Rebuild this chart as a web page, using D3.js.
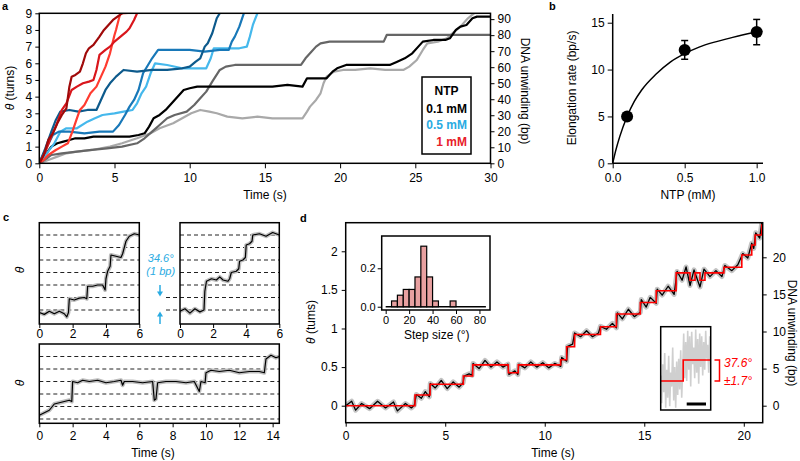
<!DOCTYPE html>
<html><head><meta charset="utf-8">
<script src="https://cdn.jsdelivr.net/npm/d3@7"></script>
<style>body{margin:0;background:#fff}svg{display:block}</style>
</head><body>
<svg id="fig" width="800" height="461"></svg>
<script>
// ---------------- DATA ----------------
const BP_PER_TURN = 360 / 34.6;

// Panel a : rotation traces [time (s), turns]
const aLightGray = [[0,0],[0.6,0.2],[1.2,0.4],[1.8,0.6],[2.5,0.7],[3.5,0.8],[4.7,1.0],[5.5,1.2],[6.5,1.5],[7.4,1.8],[8.0,2.1],[8.9,2.4],[9.5,2.7],[10.1,3.0],[10.7,3.2],[11.3,3.1],[11.8,3.0],[12.5,2.8],[13.5,2.7],[14.5,2.8],[15.5,2.7],[16.5,2.7],[17.5,2.7],[17.8,3.1],[18.0,3.4],[18.4,3.8],[18.7,4.2],[18.9,4.8],[19.1,5.2],[19.6,5.5],[20.2,5.6],[21,5.6],[22,5.7],[23,5.6],[24.2,5.6],[24.6,5.8],[25.1,6.2],[25.5,6.8],[25.8,7.2],[26.5,7.3],[27.1,7.5],[27.6,7.9],[28.0,8.2],[28.5,8.7],[28.9,9.0],[29.3,9.3]];
const aDarkGray = [[0,0],[0.5,0.3],[0.8,0.5],[1.5,0.6],[2.5,0.7],[3.5,0.8],[4.5,0.9],[5.5,1.0],[6.5,1.2],[7.0,1.5],[7.5,1.9],[8.0,2.3],[8.5,2.7],[9.0,2.9],[9.8,3.1],[10.3,3.5],[10.7,3.9],[11.1,4.3],[11.5,4.9],[12.0,5.6],[12.4,5.8],[13,5.9],[14,5.9],[15,5.9],[16,5.9],[17.4,5.9],[17.7,6.3],[18.0,6.6],[18.4,7.0],[18.7,7.2],[19.3,7.3],[20,7.3],[21,7.3],[22,7.3],[22.9,7.3],[23.1,7.7],[24,7.7],[25,7.7],[26,7.7],[27,7.7],[28,7.7],[29,7.7],[30,7.7]];
const aBlack = [[0,0],[0.4,0.5],[0.8,1.0],[1.2,1.2],[1.6,1.3],[2.0,1.4],[2.4,1.5],[3,1.5],[3.6,1.6],[4.2,1.6],[4.8,1.6],[5.4,1.6],[6,1.6],[6.6,1.7],[7.0,1.8],[7.3,2.2],[7.6,2.7],[8.0,2.9],[8.4,3.2],[8.7,3.5],[9.0,3.8],[9.3,4.1],[9.6,4.4],[10.0,4.5],[10.5,4.6],[11.5,4.6],[12.5,4.6],[13.5,4.6],[14.5,4.6],[15.5,4.6],[16.5,4.7],[17.5,4.6],[17.8,5.1],[18.5,5.1],[19.1,5.1],[19.5,5.5],[19.8,5.7],[20.4,5.9],[21.5,5.9],[22.5,5.9],[23.3,5.9],[23.8,6.1],[24.3,6.3],[24.8,6.6],[25.2,7.0],[25.5,7.3],[26.2,7.4],[27.0,7.4],[27.3,7.5],[27.7,8.0],[28.0,8.2],[28.4,8.3],[28.8,8.7],[29.1,8.8],[29.6,8.8],[30,8.8]];
const aLightBlue = [[0,0],[0.5,0.6],[1.0,1.2],[1.4,1.9],[1.8,2.1],[2.5,2.1],[3.2,2.5],[3.7,2.7],[4.2,2.9],[5,3.0],[5.6,3.1],[6.2,3.2],[6.5,3.6],[6.8,4.2],[7.1,4.6],[7.4,5.4],[7.7,6.0],[8.5,5.9],[9.5,5.7],[10.5,5.7],[11.1,5.7],[11.4,6.3],[11.6,6.9],[12.5,6.9],[13.3,6.9],[13.8,7.0],[14.0,7.6],[14.2,8.3],[14.5,9.0],[14.7,9.2]];
const aMedBlue = [[0,0],[0.4,0.8],[0.9,1.7],[1.3,1.9],[2,1.9],[3,1.8],[4,1.9],[4.9,1.9],[5.3,2.3],[5.7,2.9],[6.0,3.4],[6.3,3.8],[6.6,4.4],[6.9,5.4],[7.1,5.7],[7.5,6.3],[7.9,6.8],[9,6.8],[10,6.8],[11,6.7],[12,6.8],[12.6,6.8],[12.8,7.3],[13.0,7.6],[13.3,8.2],[13.6,9.0],[13.8,9.2]];
const aDarkBlue = [[0,0],[0.4,0.9],[0.8,1.9],[1.1,2.6],[1.4,3.1],[2.0,3.2],[2.6,3.1],[3.2,3.2],[3.8,3.2],[4.1,3.8],[4.4,4.4],[4.7,4.8],[5.1,5.2],[5.6,5.6],[6.5,5.5],[7.5,5.6],[8.5,5.6],[9.5,5.7],[10.0,5.8],[10.4,6.1],[10.7,6.3],[11.0,7.0],[11.2,7.2],[11.5,7.8],[11.8,8.7],[12.0,9.0],[12.3,9.2]];
const aBrightRed = [[0,0],[0.3,0.2],[0.6,0.5],[1.1,0.8],[1.5,1.0],[1.9,1.2],[2.2,1.9],[2.5,2.7],[2.7,3.2],[3.0,3.5],[3.4,4.2],[3.8,4.6],[4.1,5.2],[4.4,5.8],[4.7,6.6],[5.0,7.7],[5.1,8.0],[5.3,8.7],[5.4,9.0],[7.2,9.1]];
const aRed = [[0,0],[0.4,0.7],[0.8,1.6],[1.1,2.2],[1.5,3.2],[1.8,3.6],[2.15,4.4],[2.5,4.6],[2.9,4.8],[3.3,4.9],[3.6,5.0],[3.8,5.6],[4.0,6.5],[4.4,6.8],[4.7,7.0],[5.0,7.3],[5.4,7.6],[5.8,7.9],[6.0,8.1],[6.3,8.6],[6.5,9.0],[7.2,9.2]];
const aDarkRed = [[0,0],[0.3,0.5],[0.6,1.4],[0.9,1.8],[1.2,2.4],[1.5,2.9],[1.8,3.3],[2.0,4.6],[2.15,5.2],[2.4,5.3],[2.7,5.5],[2.9,6.0],[3.1,6.6],[3.3,6.9],[3.6,7.1],[4.0,7.6],[4.3,8.0],[4.6,8.3],[4.9,8.6],[5.2,8.8],[5.5,9.0],[5.8,9.2]];
const aTimeTicks = [0,5,10,15,20,25,30];
const aTurnTicks = [0,1,2,3,4,5,6,7,8,9];
const aBpTicks = [0,10,20,30,40,50,60,70,80,90];
const legendTitle = "NTP";
const legendLabels = ["0.1 mM","0.5 mM","1 mM"];

// Panel b
const bNTP = [0.1, 0.5, 1.0];
const bRate = [5.0, 12.1, 14.0];
const bErr = [0.3, 1.0, 1.35];
const bFitX = [0,0.02,0.05,0.1,0.15,0.2,0.3,0.4,0.5,0.6,0.7,0.8,0.9,1.0,1.04];
const bFitY = [0,1.3,2.9,5.0,6.6,7.8,9.5,10.8,11.7,12.4,12.9,13.3,13.7,14.0,14.1];
const bXTicks = [0,0.5,1.0];
const bYTicks = [0,5,10,15];

// Panel c : traces [time (s), step index]
const cTopLeft = [[0,-0.2],[0.3,-0.35],[0.6,-0.1],[0.9,-0.3],[1.2,-0.1],[1.5,-0.3],[1.65,-0.55],[1.75,-0.2],[1.8,0.9],[2.1,0.8],[2.4,0.95],[2.7,1.0],[2.85,0.9],[2.9,1.9],[3.2,1.9],[3.5,2.0],[3.8,2.0],[3.95,1.6],[4.0,2.5],[4.1,3.1],[4.25,3.5],[4.3,4.4],[4.6,4.3],[4.9,4.2],[5.0,4.5],[5.2,5.5],[5.4,5.9],[5.7,6.1],[6.0,6.0]];
const cTopRight = [[0,-0.1],[0.3,0.1],[0.6,-0.25],[0.9,0.1],[1.2,-0.15],[1.45,0.0],[1.5,1.5],[1.6,2.3],[1.9,2.5],[2.2,2.4],[2.4,2.65],[2.6,2.4],[2.9,2.3],[3.0,2.5],[3.1,3.0],[3.4,3.1],[3.55,3.3],[3.6,3.9],[3.8,4.0],[3.95,4.2],[4.0,5.2],[4.2,5.3],[4.35,5.5],[4.4,6.0],[4.8,6.1],[5.2,5.9],[5.6,6.2],[6.0,6.0]];
const cBottom = [[0,0.3],[0.3,0.5],[0.6,0.7],[0.9,1.2],[1.2,1.3],[1.5,1.4],[1.8,1.5],[1.95,1.4],[2.0,3.0],[2.3,2.9],[2.6,3.1],[3.0,3.0],[3.5,3.1],[4.0,2.9],[4.5,3.0],[4.9,3.1],[5.0,2.7],[5.1,3.0],[5.6,3.0],[6.2,2.9],[6.8,3.0],[6.9,1.5],[7.0,1.6],[7.1,2.9],[7.6,3.0],[8.2,3.0],[8.8,2.9],[9.3,3.0],[9.6,2.2],[9.7,3.0],[9.95,2.9],[10.0,3.7],[10.3,3.9],[10.8,3.8],[11.4,3.9],[12.0,3.7],[12.6,3.8],[13.2,3.8],[13.5,3.7],[13.6,4.8],[13.9,5.1],[14.2,4.9],[14.4,5.0]];
const cTopLevels = [0,1,2,3,4,5,6];
const cBottomLevels = [0,1,2,3,4,5];
const cTopTicks = [0,2,4,6];
const cBottomTicks = [0,2,4,6,8,10,12,14];
const cStepLabel = ["34.6°","(1 bp)"];

// Panel d : trace [time (s), bp]
const dTrace = [[0,0],[0.3,0.6],[0.5,-0.6],[0.8,0.3],[1.2,-0.4],[1.6,0.6],[2.0,-0.3],[2.4,0.5],[2.6,-0.7],[3.0,0.3],[3.3,-0.3],[3.45,0.1],[3.55,1.5],[3.8,1.0],[4.0,1.9],[4.2,1.2],[4.25,3.0],[4.5,2.4],[4.8,3.4],[5.1,2.3],[5.4,3.2],[5.7,2.5],[5.9,3.1],[5.95,4.0],[6.2,4.3],[6.35,4.1],[6.4,5.7],[6.7,5.0],[7.0,6.1],[7.3,5.2],[7.6,5.9],[7.9,5.2],[8.15,5.6],[8.2,4.2],[8.5,4.7],[8.65,4.2],[8.7,5.6],[9.0,5.1],[9.3,5.9],[9.6,5.2],[9.9,5.8],[10.2,5.1],[10.5,5.7],[10.8,5.3],[10.85,6.5],[11.1,6.0],[11.15,8.0],[11.4,8.3],[11.5,9.8],[11.8,9.3],[12.1,10.1],[12.4,9.3],[12.7,9.8],[12.8,10.7],[13.1,10.3],[13.4,11.1],[13.6,10.5],[13.65,12.5],[13.9,11.7],[14.2,13.0],[14.5,12.0],[14.8,12.6],[14.85,14.3],[15.1,13.3],[15.3,14.6],[15.6,13.8],[15.65,15.7],[15.9,14.9],[16.2,16.1],[16.5,15.0],[16.65,18.1],[16.9,16.9],[17.1,18.7],[17.3,16.2],[17.5,18.3],[17.8,16.0],[18.0,18.4],[18.3,17.4],[18.6,18.2],[18.9,17.4],[19.05,18.9],[19.4,18.2],[19.7,19.0],[19.95,20.5],[20.2,19.9],[20.4,21.9],[20.5,21.2],[20.6,23.3],[20.8,22.6],[20.9,24.6],[20.95,24.2]];
const dStepT  = [0,3.48,4.24,5.91,6.38,8.17,8.67,10.8,11.1,11.5,12.8,13.6,14.8,15.6,16.6,17.3,17.55,17.8,18.05,19.0,19.9,20.4,20.57,20.9,20.95];
const dStepBp = [0,1.44,2.9,4.0,5.5,4.45,5.5,6.2,7.95,9.6,10.65,12.35,13.9,15.5,17.9,16.9,17.9,16.9,17.9,18.65,20.3,21.65,23.0,24.35,24.35];
const dTimeTicks = [0,5,10,15,20];
const dTurnTicks = [0,0.5,1,1.5,2];
const dBpTicks = [0,5,10,15,20];

// Panel d inset histogram
const hBinStart = [5,10,15,20,25,30,35,40,55];
const hBinWidth = 5;
const hFreq = [0.03,0.06,0.09,0.09,0.155,0.315,0.155,0.03,0.03];
const hXTicks = [0,20,40,60,80];
const hYTicks = [0.0,0.2];

// Panel d inset step (fraction of window, degrees)
const iGrayX = [0,0.02,0.04,0.06,0.08,0.10,0.12,0.14,0.16,0.18,0.20,0.22,0.24,0.26,0.28,0.30,0.32,0.34,0.36,0.38,0.40,0.42,0.44,0.46,0.48,0.50,0.52,0.54,0.56,0.58,0.60,0.62,0.64,0.66,0.68,0.70,0.72,0.74,0.76,0.78,0.80,0.82,0.84,0.86,0.88,0.90,0.92,0.94,0.96,0.98,1.0];
const iGrayDeg = [10,-40,30,-20,50,-48,20,-30,45,-45,15,-10,60,-35,25,-48,35,-25,40,-15,55,-30,20,85,5,70,0,90,20,80,-10,88,30,60,5,92,15,75,-5,85,25,80,10,70,20,90,40,65,15,80,30];
const iStepX = [0,0.45,1];
const iStepDeg = [0,37.6,37.6];
const iStepText = ["37.6°","±1.7°"];

// ---------------- DRAWING ----------------
const FONT = '"Liberation Sans", Arial, Helvetica, sans-serif';
const FS = 12;
const svg = d3.select('#fig').attr('font-family', FONT);
const defs = svg.append('defs');
function clip(id, x, y, w, h){ defs.append('clipPath').attr('id', id).append('rect').attr('x',x).attr('y',y).attr('width',w).attr('height',h); }
function styleAxis(g, fs){
  g.attr('font-family', FONT).attr('font-size', fs || FS);
  g.select('.domain').remove();
  g.selectAll('.tick line').attr('stroke','#000').attr('stroke-width',1);
  g.selectAll('.tick text').attr('fill','#000');
  return g;
}
function text(x, y, str, o){
  o = o || {};
  const t = svg.append('text').attr('x', x).attr('y', y).text(str)
    .attr('font-size', o.size || FS).attr('text-anchor', o.anchor || 'middle').attr('fill', o.color || '#000');
  if (o.bold) t.attr('font-weight','bold');
  if (o.italic) t.attr('font-style','italic');
  return t;
}
function rotLabel(x, y, angle, parts, size){
  const t = svg.append('text').attr('transform', `translate(${x},${y}) rotate(${angle})`)
    .attr('text-anchor','middle').attr('font-size', size || FS).attr('fill','#000');
  parts.forEach(p => t.append('tspan').text(p[0]).attr('font-style', p[1] ? 'italic' : null));
  return t;
}
function box(x0, y0, x1, y1, sw){
  svg.append('rect').attr('x',x0).attr('y',y0).attr('width',x1-x0).attr('height',y1-y0)
    .attr('fill','none').attr('stroke','#000').attr('stroke-width', sw || 1.5);
}

// ===== Panel a =====
const A = {x0:39.3, x1:490.5, y0:13.3, y1:163.3};
const xa = d3.scaleLinear().domain([0,30]).range([A.x0, A.x1]);
const ya = d3.scaleLinear().domain([0,9]).range([A.y1, A.y0]);
const yaBp = d3.scaleLinear().domain([0, 9*BP_PER_TURN]).range([A.y1, A.y0]);
clip('clipA', A.x0, A.y0, A.x1-A.x0, A.y1-A.y0);
const aSeries = [
  [aLightGray,'#a9a9a9'],[aDarkGray,'#666666'],[aBlack,'#000000'],
  [aLightBlue,'#45b8ec'],[aMedBlue,'#1878b8'],[aDarkBlue,'#0d5a8c'],
  [aBrightRed,'#ff3b30'],[aRed,'#d9161c'],[aDarkRed,'#a00a0a']
];
const lineA = d3.line().x(d=>xa(d[0])).y(d=>ya(d[1]));
const gA = svg.append('g').attr('clip-path','url(#clipA)');
aSeries.forEach(([pts,col]) => {
  gA.append('path').datum(pts).attr('d', lineA).attr('fill','none')
    .attr('stroke', col).attr('stroke-width', 2.2).attr('stroke-linejoin','round');
});
styleAxis(svg.append('g').attr('transform',`translate(0,${A.y1})`)
  .call(d3.axisBottom(xa).tickValues(aTimeTicks).tickSize(5).tickPadding(5)));
styleAxis(svg.append('g').attr('transform',`translate(${A.x0},0)`)
  .call(d3.axisLeft(ya).tickValues(aTurnTicks).tickSize(4).tickPadding(3)));
styleAxis(svg.append('g').attr('transform',`translate(${A.x1},0)`)
  .call(d3.axisRight(yaBp).tickValues(aBpTicks).tickSize(4).tickPadding(3)));
box(A.x0, A.y0, A.x1, A.y1, 1.5);
text(265, 199, 'Time (s)');
rotLabel(14, 88, -90, [['θ',true],[' (turns)',false]]);
rotLabel(521, 91, 90, [['DNA unwinding (bp)',false]]);
// legend
svg.append('rect').attr('x',422).attr('y',77).attr('width',49).attr('height',77)
  .attr('fill','#fff').attr('stroke','#000').attr('stroke-width',1.5);
text(446.5, 95, legendTitle, {bold:true});
const legCols = ['#000000','#29abe2','#e8202a'];
legendLabels.forEach((l,i) => text(467, 112.5 + i*16.5, l, {bold:true, anchor:'end', color:legCols[i]}));
text(2, 10, 'a', {bold:true, anchor:'start', size:11});

// ===== Panel b =====
const xb = d3.scaleLinear().domain([0,1.044]).range([612.7, 763]);
const yb = d3.scaleLinear().domain([0,15.93]).range([163.3, 14]);
svg.append('line').attr('x1',612.7).attr('x2',612.7).attr('y1',14).attr('y2',163.3).attr('stroke','#000').attr('stroke-width',1.5);
svg.append('line').attr('x1',612.7).attr('x2',763).attr('y1',163.3).attr('y2',163.3).attr('stroke','#000').attr('stroke-width',1.5);
styleAxis(svg.append('g').attr('transform','translate(0,163.3)')
  .call(d3.axisBottom(xb).tickValues(bXTicks).tickFormat(d3.format('.1f')).tickSize(5).tickPadding(5)));
styleAxis(svg.append('g').attr('transform','translate(612.7,0)')
  .call(d3.axisLeft(yb).tickValues(bYTicks).tickSize(5).tickPadding(3)));
svg.append('path').datum(bFitX.map((x,i)=>[x,bFitY[i]]))
  .attr('d', d3.line().x(d=>xb(d[0])).y(d=>yb(d[1])).curve(d3.curveMonotoneX))
  .attr('fill','none').attr('stroke','#000').attr('stroke-width',1.5);
bNTP.forEach((x,i) => {
  const cx = xb(x), t = yb(bRate[i]+bErr[i]), b = yb(bRate[i]-bErr[i]);
  svg.append('line').attr('x1',cx).attr('x2',cx).attr('y1',t).attr('y2',b).attr('stroke','#000').attr('stroke-width',1.5);
  [t,b].forEach(yy => svg.append('line').attr('x1',cx-3.5).attr('x2',cx+3.5).attr('y1',yy).attr('y2',yy).attr('stroke','#000').attr('stroke-width',1.5));
  svg.append('circle').attr('cx',cx).attr('cy',yb(bRate[i])).attr('r',6).attr('fill','#000');
});
text(688, 199, 'NTP (mM)');
rotLabel(575.5, 88, -90, [['Elongation rate (bp/s)',false]]);
text(549, 10, 'b', {bold:true, anchor:'start', size:11});

// ===== Panel c =====
const STEP_PX = 12.5;
function cPanel(x0, x1, y0, y1, zeroY, tmax, pts, levels, ticks, clipId, tickPad, extendLevels){
  const xs = d3.scaleLinear().domain([0,tmax]).range([x0,x1]);
  const ys = d3.scaleLinear().domain([(zeroY-y1)/STEP_PX, (zeroY-y0)/STEP_PX]).range([y1,y0]);
  clip(clipId, x0, y0, x1-x0, y1-y0);
  levels.forEach(l => {
    const ext = extendLevels && extendLevels.includes(l);
    svg.append('line').attr('x1', ext ? 166 : x0).attr('x2', x1).attr('y1', ys(l)).attr('y2', ys(l))
      .attr('stroke','#222').attr('stroke-width',1).attr('stroke-dasharray','4,3');
  });
  const ln = d3.line().x(d=>xs(d[0])).y(d=>ys(d[1]));
  const g = svg.append('g').attr('clip-path',`url(#${clipId})`);
  g.append('path').datum(pts).attr('d', ln).attr('fill','none').attr('stroke','#bdbdbd').attr('stroke-width',4).attr('stroke-linejoin','round');
  g.append('path').datum(pts).attr('d', ln).attr('fill','none').attr('stroke','#000').attr('stroke-width',1.2).attr('stroke-linejoin','round');
  styleAxis(svg.append('g').attr('transform',`translate(0,${y1})`)
    .call(d3.axisBottom(xs).tickValues(ticks).tickFormat(d3.format('d')).tickSize(4).tickPadding(tickPad)));
  box(x0, y0, x1, y1, 1.5);
}
cPanel(39.3, 139.3, 222.7, 324, 310, 6, cTopLeft, cTopLevels, cTopTicks, 'clipC1', 1.5);
cPanel(180, 279.3, 222.7, 324, 310, 6, cTopRight, cTopLevels, cTopTicks, 'clipC2', 1.5, [0,1]);
cPanel(39.3, 279.3, 344, 423.3, 419, 14.4, cBottom, cBottomLevels, cBottomTicks, 'clipC3', 4);
rotLabel(24, 270, -90, [['θ',true]]);
rotLabel(24, 383, -90, [['θ',true]]);
text(153, 457, 'Time (s)');
const BLUE = '#29abe2';
text(160.7, 262, cStepLabel[0], {italic:true, color:BLUE, size:11});
text(160.7, 275, cStepLabel[1], {italic:true, color:BLUE, size:11});
// arrows
function arrow(x, yFrom, yTo){
  const dir = yTo > yFrom ? 1 : -1;
  svg.append('line').attr('x1',x).attr('x2',x).attr('y1',yFrom).attr('y2',yTo - dir*4).attr('stroke',BLUE).attr('stroke-width',1.5);
  svg.append('path').attr('d',`M${x-3},${yTo-dir*5} L${x+3},${yTo-dir*5} L${x},${yTo} Z`).attr('fill',BLUE);
}
arrow(160, 285, 296.5);
arrow(160, 324, 311.5);
text(3, 221, 'c', {bold:true, anchor:'start', size:11});

// ===== Panel d =====
const D = {x0:345.7, x1:762.7, y0:222.7, y1:422.7, zero:405.7, pxPerBp:7.42};
const xd = d3.scaleLinear().domain([0,20.95]).range([D.x0, D.x1]);
const bpMin = (D.zero - D.y1)/D.pxPerBp, bpMax = (D.zero - D.y0)/D.pxPerBp;
const yd = d3.scaleLinear().domain([bpMin, bpMax]).range([D.y1, D.y0]);
const ydTurn = d3.scaleLinear().domain([bpMin/BP_PER_TURN, bpMax/BP_PER_TURN]).range([D.y1, D.y0]);
clip('clipD', D.x0, D.y0, D.x1-D.x0, D.y1-D.y0);
const gD = svg.append('g').attr('clip-path','url(#clipD)');
const lnD = d3.line().x(d=>xd(d[0])).y(d=>yd(d[1]));
gD.append('path').datum(dTrace).attr('d', lnD).attr('fill','none').attr('stroke','#c4c4c4').attr('stroke-width',5).attr('stroke-linejoin','round');
gD.append('path').datum(dTrace).attr('d', lnD).attr('fill','none').attr('stroke','#000').attr('stroke-width',1.3).attr('stroke-linejoin','round');
gD.append('path').datum(dStepT.map((t,i)=>[t,dStepBp[i]]))
  .attr('d', d3.line().x(d=>xd(d[0])).y(d=>yd(d[1])).curve(d3.curveStepAfter))
  .attr('fill','none').attr('stroke','#ff0000').attr('stroke-width',1.6);
styleAxis(svg.append('g').attr('transform',`translate(0,${D.y1})`)
  .call(d3.axisBottom(xd).tickValues(dTimeTicks).tickSize(4).tickPadding(4.5)));
styleAxis(svg.append('g').attr('transform',`translate(${D.x0},0)`)
  .call(d3.axisLeft(ydTurn).tickValues(dTurnTicks).tickFormat(d3.format('~g')).tickSize(4).tickPadding(4)));
styleAxis(svg.append('g').attr('transform',`translate(${D.x1},0)`)
  .call(d3.axisRight(yd).tickValues(dBpTicks).tickSize(4).tickPadding(6)));
box(D.x0, D.y0, D.x1, D.y1, 1.5);
text(553, 457, 'Time (s)');
rotLabel(314.5, 322, -90, [['θ',true],[' (tums)',false]]);
rotLabel(788, 333, 90, [['DNA unwinding (bp)',false]]);
text(300, 222, 'd', {bold:true, anchor:'start', size:11});

// inset histogram
const H = {x0:381.7, x1:490, y0:236, y1:310};
svg.append('rect').attr('x',H.x0).attr('y',H.y0).attr('width',H.x1-H.x0).attr('height',H.y1-H.y0).attr('fill','#fff');
const xh = d3.scaleLinear().domain([-3.4, 89]).range([H.x0, H.x1]);
const yh = d3.scaleLinear().domain([-0.017, 0.368]).range([H.y1, H.y0]);
svg.append('line').attr('x1',xh(0)).attr('x2',xh(85.5)).attr('y1',yh(0)).attr('y2',yh(0)).attr('stroke','#000').attr('stroke-width',1.3);
hBinStart.forEach((s,i) => {
  svg.append('rect').attr('x',xh(s)).attr('y',yh(hFreq[i])).attr('width',xh(s+hBinWidth)-xh(s)).attr('height',yh(0)-yh(hFreq[i]))
    .attr('fill','#e8a0a0').attr('stroke','#000').attr('stroke-width',1.2);
});
styleAxis(svg.append('g').attr('transform',`translate(0,${H.y1})`)
  .call(d3.axisBottom(xh).tickValues(hXTicks).tickSize(4).tickPadding(2)), 11);
styleAxis(svg.append('g').attr('transform',`translate(${H.x0},0)`)
  .call(d3.axisLeft(yh).tickValues(hYTicks).tickFormat(d3.format('.1f')).tickSize(4).tickPadding(2)), 11);
box(H.x0, H.y0, H.x1, H.y1, 1.5);
text(436.7, 338.5, 'Step size (°)');

// inset step
const I = {x0:660.7, x1:710.7, y0:326.7, y1:410};
svg.append('rect').attr('x',I.x0).attr('y',I.y0).attr('width',I.x1-I.x0).attr('height',I.y1-I.y0).attr('fill','#fff');
clip('clipI', I.x0, I.y0, I.x1-I.x0, I.y1-I.y0);
const xi = d3.scaleLinear().domain([0,1]).range([I.x0, I.x1]);
const yi = d3.scaleLinear().domain([0,37.6]).range([381, 360]);
const gI = svg.append('g').attr('clip-path','url(#clipI)');
gI.append('path').datum(iGrayX.map((x,i)=>[x,iGrayDeg[i]]))
  .attr('d', d3.line().x(d=>xi(d[0])).y(d=>yi(d[1]))).attr('fill','none').attr('stroke','#cfcfcf').attr('stroke-width',1.6);
gI.append('path').datum(iStepX.map((x,i)=>[x,iStepDeg[i]]))
  .attr('d', d3.line().x(d=>xi(d[0])).y(d=>yi(d[1])).curve(d3.curveStepAfter)).attr('fill','none').attr('stroke','#ff0000').attr('stroke-width',1.6);
svg.append('line').attr('x1',686.7).attr('x2',706).attr('y1',404).attr('y2',404).attr('stroke','#000').attr('stroke-width',3);
box(I.x0, I.y0, I.x1, I.y1, 1.5);
svg.append('path').attr('d',`M714.5,${yi(37.6)} H719.5 V${yi(0)} H714.5`).attr('fill','none').attr('stroke','#ff0000').attr('stroke-width',1.5);
text(724, 367, iStepText[0], {italic:true, anchor:'start', color:'#ff0000'});
text(724, 385, iStepText[1], {italic:true, anchor:'start', color:'#ff0000'});
</script>
</body></html>
